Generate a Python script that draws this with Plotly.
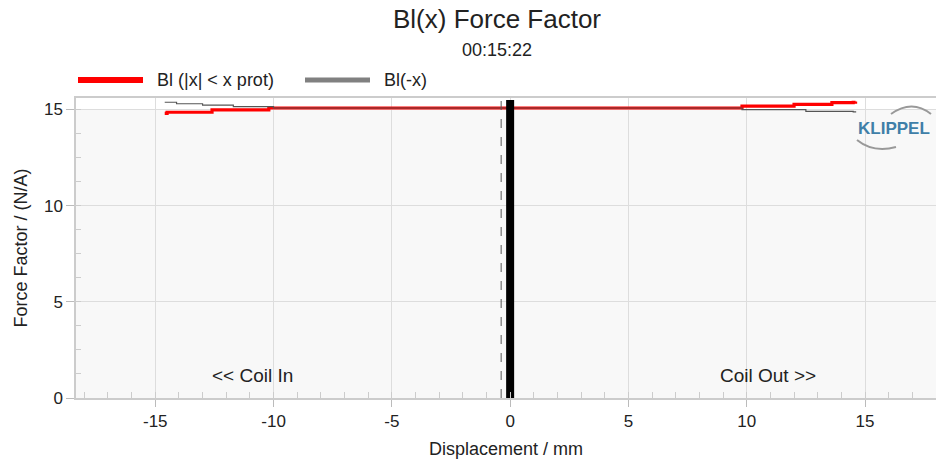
import plotly.graph_objects as go

# ---- data ----
bl_x = [-14.6, -14.5, -12.6, -10.2, 9.8, 12.0, 13.6, 14.5, 14.6]
bl_y = [14.80, 14.86, 14.98, 15.08, 15.18, 15.27, 15.36, 15.38, 15.42]

blm_x = [-14.6, -14.1, -13.0, -11.7, -10.0, 9.8, 12.5, 14.5, 14.6]
blm_y = [15.38, 15.30, 15.23, 15.15, 15.08, 15.00, 14.90, 14.88, 14.85]

rest_x = [0, 0]
rest_y = [0, 15.5]
offset_x = [-0.38, -0.38]
offset_y = [0, 15.6]

x_ticks = [-15, -10, -5, 0, 5, 10, 15]
x_labels = ["-15", "-10", "-5", "0", "5", "10", "15"]
y_ticks = [0, 5, 10, 15]
y_labels = ["0", "5", "10", "15"]

FONT = "Liberation Sans, Arial, sans-serif"

fig = go.Figure()
fig.add_trace(go.Scatter(x=bl_x, y=bl_y, mode="lines", line=dict(color="#ff0000", width=3.2, shape="hv"),
                         showlegend=False, hoverinfo="skip"))
fig.add_trace(go.Scatter(x=blm_x, y=blm_y, mode="lines", line=dict(color="#555555", width=1.2, shape="hv"),
                         showlegend=False, hoverinfo="skip"))
fig.add_trace(go.Scatter(x=offset_x, y=offset_y, mode="lines", line=dict(color="#555555", width=1, dash="dash"),
                         showlegend=False, hoverinfo="skip"))
fig.add_trace(go.Scatter(x=rest_x, y=rest_y, mode="lines", line=dict(color="#000000", width=8),
                         showlegend=False, hoverinfo="skip"))

L, R, T, B = 76, 0, 98, 61
W, H = 936, 459
pw, ph = W - L - R, H - T - B


def px(xp):
    return (xp - L) / pw


def py(yp):
    return (H - B - yp) / ph


shapes = [
    dict(type="rect", xref="x", yref="y", x0=-18.35, x1=18.0, y0=15, y1=15.6,
         fillcolor="white", line=dict(width=0), layer="below"),
    # legend samples
    dict(type="line", xref="paper", yref="paper", x0=px(78), x1=px(143), y0=py(80), y1=py(80),
         line=dict(color="#ff0000", width=6)),
    dict(type="line", xref="paper", yref="paper", x0=px(305), x1=px(370), y0=py(80), y1=py(80),
         line=dict(color="#808080", width=5)),
    # logo arcs
    dict(type="path", xref="paper", yref="paper",
         path=f"M {px(891)} {py(114)} Q {px(912)} {py(99)} {px(931)} {py(114)}",
         line=dict(color="#999999", width=2)),
    dict(type="path", xref="paper", yref="paper",
         path=f"M {px(857)} {py(140)} Q {px(873)} {py(153)} {px(896)} {py(147)}",
         line=dict(color="#999999", width=2)),
]

annotations = [
    dict(text="00:15:22", xref="paper", yref="paper", x=px(497), y=py(50), showarrow=False,
         font=dict(size=18, color="#222"), xanchor="center", yanchor="middle"),
    dict(text="Bl (|x| < x prot)", xref="paper", yref="paper", x=px(155), y=py(80), showarrow=False,
         font=dict(size=18, color="#222"), xanchor="left", yanchor="middle"),
    dict(text="Bl(-x)", xref="paper", yref="paper", x=px(382), y=py(80), showarrow=False,
         font=dict(size=18, color="#222"), xanchor="left", yanchor="middle"),
    dict(text="<< Coil In", xref="paper", yref="paper", x=px(252), y=py(375), showarrow=False,
         font=dict(size=19, color="#222"), xanchor="center", yanchor="middle"),
    dict(text="Coil Out >>", xref="paper", yref="paper", x=px(768), y=py(375), showarrow=False,
         font=dict(size=19, color="#222"), xanchor="center", yanchor="middle"),
    dict(text="<b>KLIPPEL</b>", xref="paper", yref="paper", x=px(894), y=py(128), showarrow=False,
         font=dict(size=17, color="#3f7fa8"), xanchor="center", yanchor="middle"),
]

fig.update_layout(
    width=W, height=H,
    margin=dict(l=L, r=R, t=T, b=B, autoexpand=False),
    paper_bgcolor="white",
    plot_bgcolor="#f8f8f8",
    font=dict(family=FONT, size=17, color="#222"),
    title=dict(text="Bl(x) Force Factor", x=497 / W, xanchor="center", y=1 - 19 / H, yanchor="middle",
               font=dict(size=26, color="#222")),
    showlegend=False,
    shapes=shapes,
    annotations=annotations,
    xaxis=dict(range=[-18.35, 18.0], tickvals=x_ticks, ticktext=x_labels, ticks="outside", ticklen=7,
               tickcolor="#bbb",
               showgrid=True, gridcolor="#dddddd", gridwidth=1, zeroline=False,
               showline=True, linecolor="#cccccc", linewidth=1.5, mirror=True,
               minor=dict(dtick=1, tick0=0, ticks="inside", ticklen=6, tickcolor="#cccccc", showgrid=False),
               title=dict(text="Displacement / mm", standoff=12, font=dict(size=18)),
               tickfont=dict(size=17, color="#222")),
    yaxis=dict(range=[0, 15.6], tickvals=y_ticks, ticktext=y_labels, ticks="outside", ticklen=8,
               tickcolor="#bbb",
               showgrid=True, gridcolor="#dddddd", gridwidth=1, zeroline=False,
               showline=True, linecolor="#cccccc", linewidth=1.5, mirror=True,
               minor=dict(dtick=1.25, tick0=0, ticks="inside", ticklen=5, tickcolor="#cccccc", showgrid=False),
               title=dict(text="Force Factor / (N/A)", standoff=12, font=dict(size=18)),
               tickfont=dict(size=17, color="#222")),
)

fig.write_html("out.html")
